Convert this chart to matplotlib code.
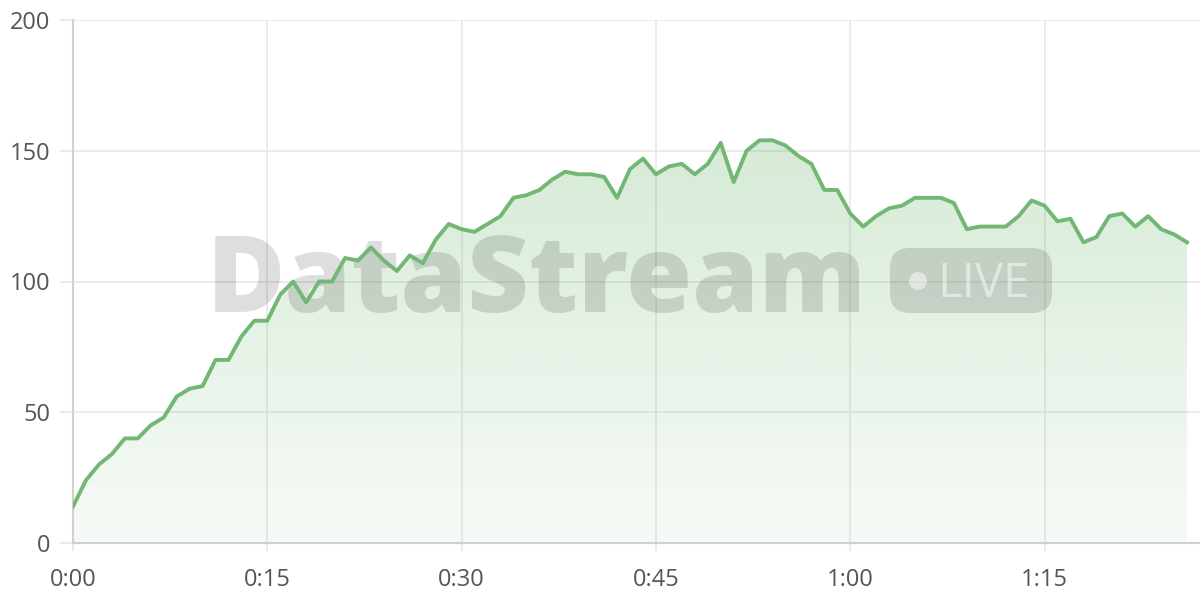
import matplotlib.pyplot as plt
import numpy as np
from matplotlib.patches import FancyBboxPatch, Circle
from matplotlib.transforms import IdentityTransform
from matplotlib.colors import to_rgb

# minutos desde el inicio y valores
minutos = np.arange(0, 87)
valores = [14, 24, 30, 34, 40, 40, 45, 48, 56, 59,
           60, 70, 70, 79, 85, 85, 95, 100, 92, 100,
           100, 109, 108, 113, 108, 104, 110, 107, 116, 122,
           120, 119, 122, 125, 132, 133, 135, 139, 142, 141,
           141, 140, 132, 143, 147, 141, 144, 145, 141, 145,
           153, 138, 150, 154, 154, 152, 148, 145, 135, 135,
           126, 121, 125, 128, 129, 132, 132, 132, 130, 120,
           121, 121, 121, 125, 131, 129, 123, 124, 115, 117,
           125, 126, 121, 125, 120, 118, 115]
xticks = [0, 15, 30, 45, 60, 75]
xlabels = ["0:00", "0:15", "0:30", "0:45", "1:00", "1:15"]
yticks = [0, 50, 100, 150, 200]

verde = "#72b874"
gris_grid = "#e8e8e8"

fig = plt.figure(figsize=(12, 6), dpi=100)
ax = fig.add_axes([73 / 1200, 57 / 600, 1 - 73 / 1200, (543 - 20) / 600])

# relleno con degradado vertical
rgb = to_rgb(verde)
n = 256
img = np.zeros((n, 1, 4))
img[:, :, 0] = rgb[0]
img[:, :, 1] = rgb[1]
img[:, :, 2] = rgb[2]
img[:, :, 3] = np.linspace(0.06, 0.30, n).reshape(-1, 1)
poly = ax.fill_between(minutos, 0, valores, color="none", lw=0)
im = ax.imshow(img, extent=[0, 86, 0, 160], origin="lower", aspect="auto", zorder=1)
im.set_clip_path(poly.get_paths()[0], transform=ax.transData)
ax.set_xlim(0, 87)
ax.set_ylim(0, 200)

# marca de agua
ax.text(207, 600 - 312, "DataStream", transform=IdentityTransform(),
        fontsize=77, fontweight="heavy", family="Open Sans", color="black",
        alpha=0.13, ha="left", va="baseline", zorder=2)
pill = FancyBboxPatch((890, 600 - 313), 162, 65, boxstyle="round,pad=0,rounding_size=20",
                      transform=IdentityTransform(), facecolor="black", alpha=0.13,
                      edgecolor="none", zorder=2)
ax.add_patch(pill)
ax.add_patch(Circle((918, 600 - 281), 9, transform=IdentityTransform(),
                    facecolor="white", alpha=0.5, edgecolor="none", zorder=2))
ax.text(937, 600 - 297, "LIVE", transform=IdentityTransform(),
        fontsize=34, family="Open Sans", color="white", alpha=0.5,
        ha="left", va="baseline", zorder=2)

ax.plot(minutos, valores, color=verde, lw=2.8, zorder=3)

ax.set_xticks(xticks)
ax.set_xticklabels(xlabels)
ax.set_yticks(yticks)
ax.grid(True, color=gris_grid, lw=1.2, zorder=0)
ax.set_axisbelow(True)
for s in ["top", "right"]:
    ax.spines[s].set_visible(False)
for s in ["left", "bottom"]:
    ax.spines[s].set_color("#d0d0d0")
    ax.spines[s].set_linewidth(1.5)
ax.tick_params(axis="y", length=9.5, color=gris_grid, width=1.2, pad=7,
               labelsize=17, labelcolor="#555555")
ax.tick_params(axis="x", length=6, color=gris_grid, width=1.2, pad=12,
               labelsize=17, labelcolor="#555555")
for lab in ax.get_xticklabels() + ax.get_yticklabels():
    lab.set_family("Open Sans")

plt.savefig("out.png", dpi=100)
plt.close()
